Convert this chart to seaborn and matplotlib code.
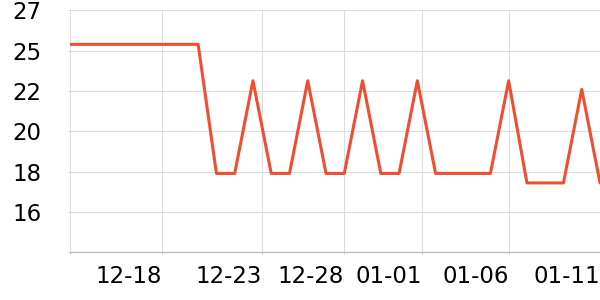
import matplotlib
matplotlib.use("Agg")
import matplotlib.pyplot as plt
import seaborn as sns
import pandas as pd
import numpy as np

# ---- data ----
dates = ["12-13", "12-14", "12-15", "12-16", "12-17", "12-18", "12-19", "12-20",
         "12-21", "12-22", "12-23", "12-24", "12-25", "12-26", "12-27", "12-28",
         "12-29", "12-30", "12-31", "01-01", "01-02", "01-03", "01-04", "01-05",
         "01-06", "01-07", "01-08", "01-09", "01-10", "01-11"]
values = [25.1, 25.1, 25.1, 25.1, 25.1, 25.1, 25.1, 25.1,
          17.9, 17.9, 23.07, 17.9, 17.9, 23.07, 17.9, 17.9,
          23.07, 17.9, 17.9, 23.07, 17.9, 17.9, 17.9, 17.9,
          23.07, 17.37, 17.37, 17.37, 22.59, 17.37]
x_tick_pos = [0, 5, 10.48, 15, 19.27, 24, 29]
x_tick_labels = ["", "12-18", "12-23", "12-28", "01-01", "01-06", "01-11"]
y_ticks = [13.5, 15.75, 18, 20.25, 22.5, 24.75, 27]

df = pd.DataFrame({"idx": np.arange(len(dates)), "date": dates, "value": values})

sns.set_theme(style="white")
plt.rcParams["font.family"] = ["DejaVu Sans"]

fig = plt.figure(figsize=(6, 3), dpi=100)
ax = fig.add_axes([70.3 / 600, (300 - 252.3) / 300, 529.7 / 600, 242 / 300])

sns.lineplot(data=df, x="idx", y="value", ax=ax, color="#f04e30", linewidth=2.2)

ax.set_xlim(0, 29)
ax.set_ylim(13.5, 27)
ax.set_xticks(x_tick_pos)
ax.set_xticklabels(x_tick_labels, ha="right")
ax.set_yticks(y_ticks)
ax.set_yticklabels(["" if i == 0 else "{:.0f}".format(v) for i, v in enumerate(y_ticks)])

ax.grid(True, color="#dddddd", linewidth=0.8)
ax.set_axisbelow(True)
for s in ["top", "right", "left"]:
    ax.spines[s].set_visible(False)
ax.spines["bottom"].set_color("#bbbbbb")
ax.spines["bottom"].set_linewidth(0.9)

ax.tick_params(axis="both", which="both", length=1.5, width=0.8, color="#cccccc",
               labelsize=16.5, labelcolor="#000000")
ax.tick_params(axis="y", left=True, pad=19)
ax.tick_params(axis="x", bottom=True, pad=8)
ax.set_xlabel("")
ax.set_ylabel("")

fig.savefig("out.png", dpi=100)
